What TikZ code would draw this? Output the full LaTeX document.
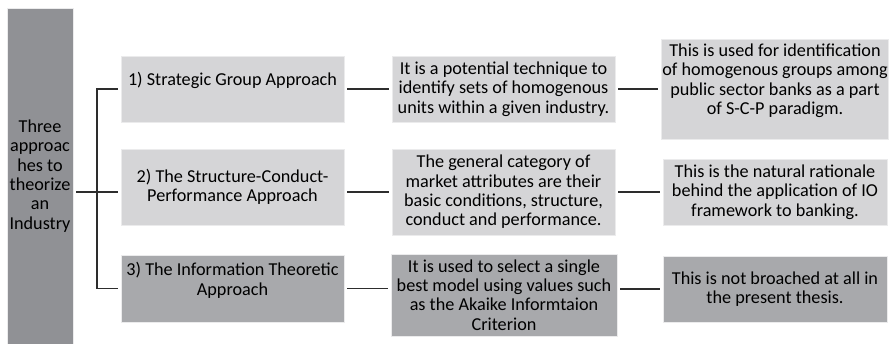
\documentclass[tikz,border=0pt]{standalone}
\usepackage{fontspec}
\setmainfont{Carlito}
\usetikzlibrary{positioning, calc}
\definecolor{barGray}{RGB}{144, 145, 149}
\definecolor{lightBox}{RGB}{213, 213, 215}
\definecolor{darkBox}{RGB}{168, 169, 172}
\definecolor{edgeWhite}{RGB}{235, 235, 236}
\definecolor{linkGray}{RGB}{45, 45, 45}
\tikzset{
    % Base Block Style
    box/.style={
        rectangle,
        inner sep=1pt,
        align=center,
        font=\fontsize{18.2}{19.4}\selectfont,
        draw=edgeWhite,
        line width=0.8pt
    },
    % Specific Role Styles
    boxLight/.style={box, fill=lightBox},
    boxDark/.style={box, fill=darkBox},
    mainBar/.style={box, fill=barGray, minimum width=66pt, minimum height=336pt},
    % Connector Style
    link/.style={draw=linkGray, line width=1.7pt, shorten <=3pt, shorten >=3pt}
}

\begin{document}
\begin{tikzpicture}[x=1pt, y=-1pt]

    \useasboundingbox (0,0) rectangle (891,344);

    % --- ROOT BAR ---
    \node (root) [mainBar] at (40,176) {Three\\approac\\hes to\\theorize\\an\\Industry};

    % --- FIRST COLUMN (Approaches) ---
    \node (appr1) [boxLight, minimum width=223pt, minimum height=66pt] at (232.5,89)
        {1) Strategic Group Approach\\~};
    \node (appr2) [boxLight, minimum width=223pt, minimum height=76pt] at (232.5,187)
        {2) The Structure-Conduct-\\Performance Approach};
    \node (appr3) [boxDark, minimum width=223pt, minimum height=67pt] at (232.5,288.5)
        {3) The Information Theoretic\\Approach\\~};

    % --- SECOND COLUMN (Descriptions) ---
    \node (desc1) [boxLight, minimum width=223pt, minimum height=66pt] at (503.5,89)
        {It is a potential technique to\\identify sets of homogenous\\units within a given industry.};
    \node (desc2) [boxLight, minimum width=223pt, minimum height=86pt] at (503.5,192)
        {The general category of\\market attributes are their\\basic conditions, structure,\\conduct and performance.};
    \node (desc3) [boxDark, minimum width=226pt, minimum height=82pt] at (504,295)
        {It is used to select a single\\best model using values such\\as the Akaike Informtaion\\Criterion};

    % --- THIRD COLUMN (Use in Thesis) ---
    \node (use1) [boxLight, minimum width=224pt, minimum height=100pt] at (775,89)
        {This is used for identification\\of homogenous groups among\\public sector banks as a part\\of S-C-P paradigm.\\~};
    \node (use2) [boxLight, minimum width=224pt, minimum height=66pt] at (775,192)
        {This is the natural rationale\\behind the application of IO\\framework to banking.};
    \node (use3) [boxDark, minimum width=224pt, minimum height=66pt] at (775,289)
        {This is not broached at all in\\the present thesis.};

    % --- Connectors (The Bracket) ---
    \coordinate (hub) at (97,192);
    \draw [link, shorten >=0pt] (root.east |- hub) -- (hub);
    \draw [link, shorten <=0pt] (hub) |- (appr1.west);
    \draw [link, shorten <=0pt] (hub) |- (appr3.west);
    \draw [link, shorten <=0pt] (hub) -- (appr2.west |- hub);

    % --- Connectors (Rows) ---
    \draw [link] (appr1.east) -- (desc1.west);
    \draw [link] (appr2.east |- desc2.west) -- (desc2.west);
    \draw [link] (appr3.east) -- (desc3.west |- appr3.east);
    \draw [link] (desc1.east) -- (use1.west);
    \draw [link] (desc2.east) -- (use2.west);
    \draw [link] (desc3.east |- use3.west) -- (use3.west);

\end{tikzpicture}
\end{document}
